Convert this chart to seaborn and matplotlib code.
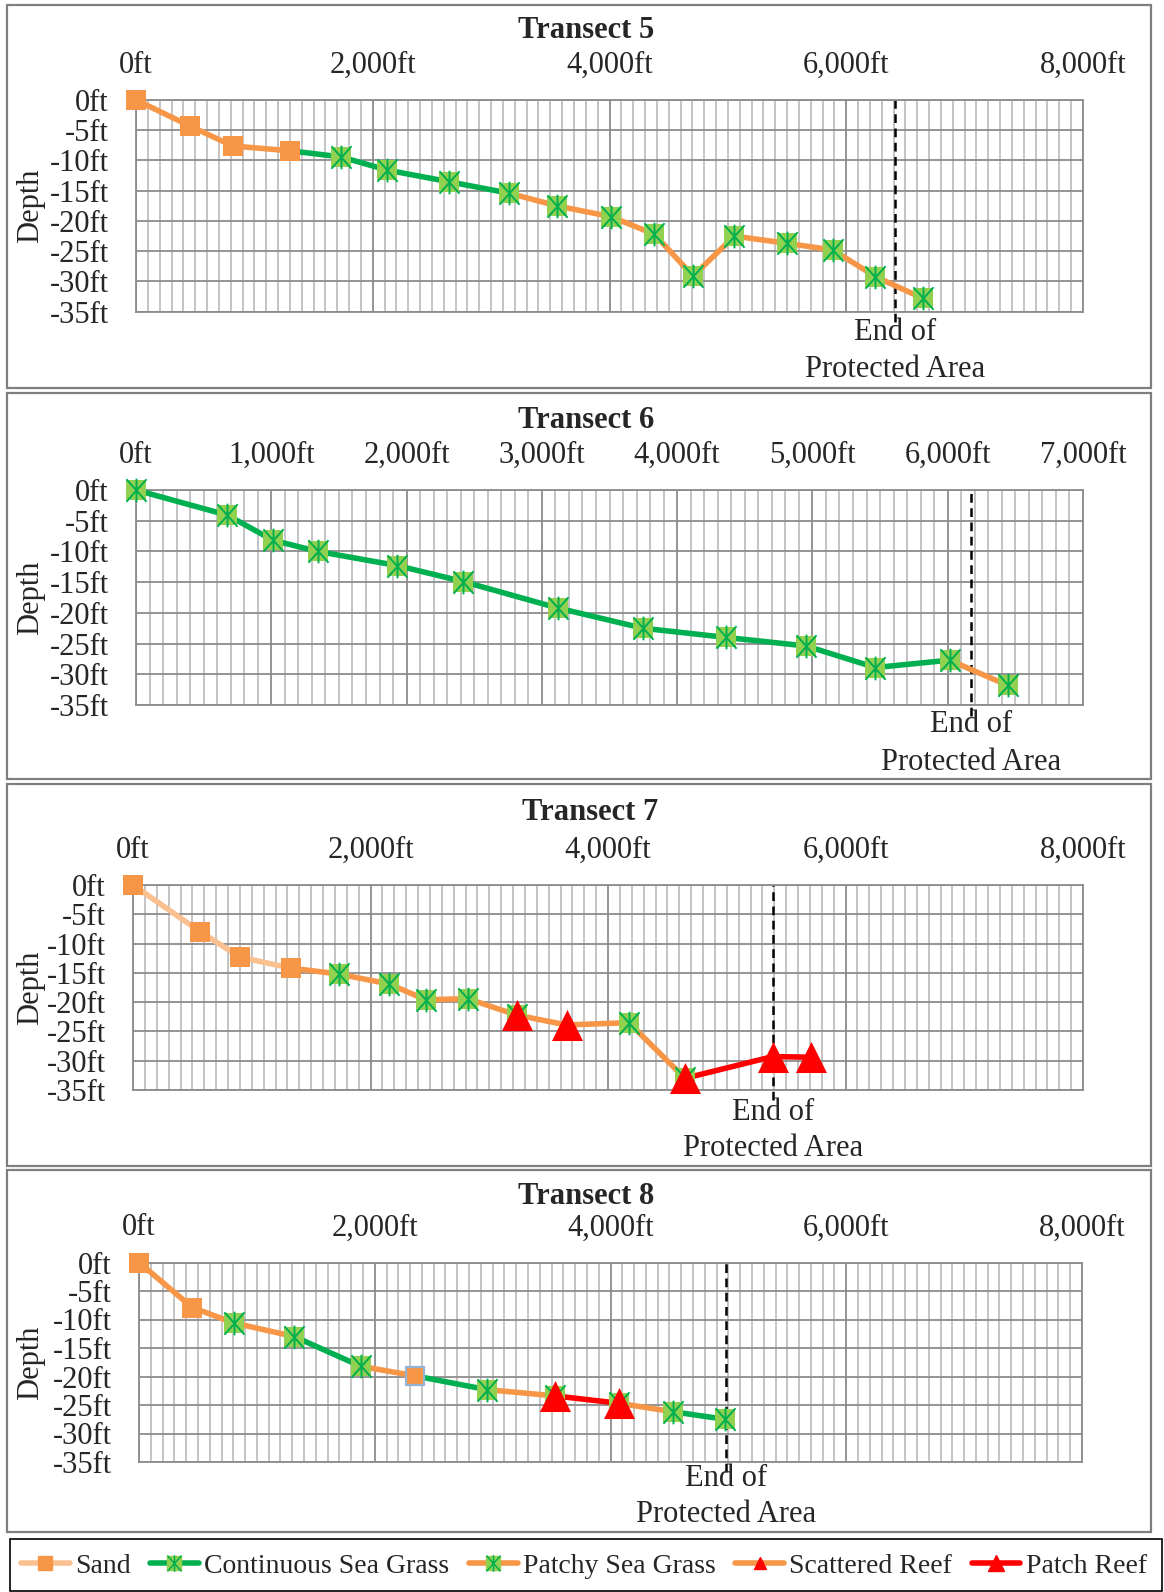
import numpy as np
import pandas as pd
import matplotlib
matplotlib.use('Agg')
import matplotlib.pyplot as plt
import seaborn as sns
from matplotlib.patches import Rectangle
from matplotlib.lines import Line2D
from matplotlib.path import Path

sns.set_style('white')
plt.rcParams['font.family'] = ['Liberation Serif', 'DejaVu Serif']

# ---- data (distance in ft, depth in ft) ----
t5_dist = [0, 456, 817, 1302, 1730, 2124, 2640, 3150, 3556, 4015, 4379, 4706, 5055, 5500, 5886, 6247, 6647]
t5_depth = [0, -4.3, -7.6, -8.4, -9.4, -11.6, -13.5, -15.4, -17.5, -19.3, -22.2, -29.1, -22.5, -23.7, -24.8, -29.2, -32.8]
t5_lines = ['orange'] * 3 + ['green'] * 4 + ['orange'] * 9
t5_marks = ['sand'] * 4 + ['grass'] * 13
t5_end = 6416

t6_dist = [0, 676, 1014, 1344, 1930, 2418, 3116, 3747, 4362, 4955, 5465, 6014, 6442]
t6_depth = [0, -4.1, -8.2, -10.0, -12.3, -14.9, -19.2, -22.5, -24.0, -25.4, -28.9, -27.7, -31.8]
t6_lines = ['green'] * 11 + ['orange']
t6_marks = ['grass'] * 13
t6_end = 6171

t7_dist = [0, 568, 899, 1329, 1733, 2157, 2466, 2817, 3230, 3651, 4176, 4648, 5386, 5709]
t7_depth = [0, -8.0, -12.3, -14.2, -15.2, -16.9, -19.6, -19.4, -22.2, -23.9, -23.5, -33.0, -29.3, -29.4]
t7_lines = ['peach'] * 3 + ['orange'] * 8 + ['red'] * 2
t7_marks = ['sand'] * 4 + ['grass'] * 4 + ['grass+reef', 'reef', 'grass', 'grass+reef', 'reef', 'reef']
t7_end = 5392

t8_dist = [0, 453, 805, 1318, 1880, 2344, 2949, 3529, 4074, 4534, 4970]
t8_depth = [0, -7.9, -10.6, -13.0, -18.2, -19.9, -22.3, -23.4, -24.7, -26.2, -27.5]
t8_lines = ['orange', 'orange', 'orange', 'green', 'orange', 'green', 'orange', 'red', 'orange', 'green']
t8_marks = ['sand', 'sand', 'grass', 'grass', 'grass', 'sand_edge', 'grass', 'grass+reef', 'grass+reef', 'grass', 'grass']
t8_end = 4980

titles = ['Transect 5', 'Transect 6', 'Transect 7', 'Transect 8']
x_max = [8000, 7000, 8000, 8000]
x_step = [2000, 1000, 2000, 2000]
legend_labels = ['Sand', 'Continuous Sea Grass', 'Patchy Sea Grass', 'Scattered Reef', 'Patch Reef']

transects = [
    (t5_dist, t5_depth, t5_lines, t5_marks, t5_end),
    (t6_dist, t6_depth, t6_lines, t6_marks, t6_end),
    (t7_dist, t7_depth, t7_lines, t7_marks, t7_end),
    (t8_dist, t8_depth, t8_lines, t8_marks, t8_end),
]

# ---- colours / layout ----
line_pal = {'orange': '#F79646', 'peach': '#FAC090', 'green': '#00B050', 'red': '#FF0000'}
ORANGE = '#F79646'
LGREEN = '#92D050'
DGREEN = '#00B050'
RED = '#FF0000'

W, H = 1164, 1592
# axes boxes in pixels: left, right, top, bottom
boxes = [(136, 1083, 100, 311.7), (136, 1083, 490, 705), (133, 1083, 885, 1090), (139, 1082, 1262.5, 1462)]
frames = [(5, 388), (393, 779), (784, 1166), (1170, 1532)]
title_pos = [(586, 31), (586, 420), (590, 812), (586, 1196)]
end_off = [(21, 58), (20, 57), (22, 59), (16, 52)]

# asterisk like Excel's marker: vertical bar + X
ast = Path([(0, -1), (0, 1), (-0.85, -0.95), (0.85, 0.95), (-0.85, 0.95), (0.85, -0.95)],
           [Path.MOVETO, Path.LINETO, Path.MOVETO, Path.LINETO, Path.MOVETO, Path.LINETO])

fig = plt.figure(figsize=(W / 100, H / 100), dpi=100)

for i, (dist, depth, lines, marks, end) in enumerate(transects):
    l, r, t, b = boxes[i]
    ax = fig.add_axes([l / W, 1 - b / H, (r - l) / W, (b - t) / H])

    # segments as a long table
    rows = []
    for k, c in enumerate(lines):
        rows.append((dist[k], depth[k], k, c))
        rows.append((dist[k + 1], depth[k + 1], k, c))
    seg = pd.DataFrame(rows, columns=['dist', 'depth', 'seg', 'kind'])
    sns.lineplot(data=seg, x='dist', y='depth', hue='kind', units='seg', estimator=None, sort=False,
                 palette=line_pal, linewidth=4.0, legend=False, ax=ax, zorder=3,
                 solid_capstyle='butt', solid_joinstyle='round')

    pts = pd.DataFrame({'dist': dist, 'depth': depth, 'mark': marks})
    sand = pts[pts.mark == 'sand']
    sns.scatterplot(data=sand, x='dist', y='depth', marker='s', s=190, color=ORANGE, edgecolor=ORANGE,
                    linewidth=0, ax=ax, zorder=4, clip_on=False)
    sand_e = pts[pts.mark == 'sand_edge']
    sns.scatterplot(data=sand_e, x='dist', y='depth', marker='s', s=170, color=ORANGE, edgecolor='#95B3D7',
                    linewidth=1.6, ax=ax, zorder=4, clip_on=False)
    grass = pts[pts.mark.str.contains('grass')]
    sns.scatterplot(data=grass, x='dist', y='depth', marker='s', s=190, color=LGREEN, edgecolor=LGREEN,
                    linewidth=0, ax=ax, zorder=4, clip_on=False)
    sns.scatterplot(data=grass, x='dist', y='depth', marker=ast, s=290, color=DGREEN, edgecolor=DGREEN,
                    linewidth=1.4, ax=ax, zorder=5, clip_on=False)
    reef = pts[pts.mark.str.contains('reef')]
    sns.scatterplot(data=reef, x='dist', y='depth', marker='^', s=500, color=RED, edgecolor=RED,
                    linewidth=0, ax=ax, zorder=6, clip_on=False)

    # end of protected area
    ax.axvline(end, ymin=-0.05, ymax=1, color='black', lw=1.8, ls=(0, (3.5, 2.2)), zorder=2.5, clip_on=False)
    o1, o2 = end_off[i]
    ax.annotate('End of', xy=(end, 0), xycoords=('data', 'axes fraction'), xytext=(0, -o1),
                textcoords='offset pixels', ha='center', va='center', fontsize=22)
    ax.annotate('Protected Area', xy=(end, 0), xycoords=('data', 'axes fraction'), xytext=(0, -o2),
                textcoords='offset pixels', ha='center', va='center', fontsize=22)

    # axes and grid
    ax.set_xlim(0, x_max[i])
    ax.set_ylim(-35, 0)
    xt = np.arange(0, x_max[i] + 1, x_step[i])
    ax.set_xticks(xt)
    ax.set_xticklabels([f'{v:,}ft' for v in xt])
    ax.set_xticks(np.arange(0, x_max[i] + 1, 100), minor=True)
    yt = np.arange(-35, 1, 5)
    ax.set_yticks(yt)
    ax.set_yticklabels([f'{v}ft' for v in yt])
    ax.xaxis.tick_top()
    ax.tick_params(axis='x', which='both', length=0, pad=14.5, labelsize=22, top=True, bottom=False)
    ax.tick_params(axis='y', which='both', length=0, pad=19.5, labelsize=22)
    ax.grid(which='minor', axis='x', color='#BFBFBF', lw=1.3)
    ax.grid(which='major', axis='both', color='#8C8C8C', lw=1.3)
    ax.set_axisbelow(True)
    for sp in ax.spines.values():
        sp.set_color('#8C8C8C')
        sp.set_linewidth(1.3)
    ax.set_xlabel('')
    ax.set_ylabel('')

    # panel text
    tx, ty = title_pos[i]
    fig.text(tx / W, 1 - ty / H, titles[i], ha='center', va='center', fontsize=22, fontweight='bold')
    fig.text(31 / W, 1 - ((t + b) / 2) / H, 'Depth', rotation=90, ha='center', va='center', fontsize=22)

    f_top, f_bot = frames[i]
    fig.add_artist(Rectangle((7 / W, 1 - f_bot / H), (1151 - 7) / W, (f_bot - f_top) / H,
                             transform=fig.transFigure, fill=False, ec='#7F7F7F', lw=1.6))

# legend
h_sand = Line2D([], [], color='#FAC090', lw=4, marker='s', ms=10, mfc=ORANGE, mec=ORANGE)
h_cont = (Line2D([], [], color=DGREEN, lw=4, marker='s', ms=10, mfc=LGREEN, mec=LGREEN),
          Line2D([], [], ls='none', marker=ast, ms=12, mec=DGREEN, mfc=DGREEN, mew=1.1))
h_patchy = (Line2D([], [], color=ORANGE, lw=4, marker='s', ms=10, mfc=LGREEN, mec=LGREEN),
            Line2D([], [], ls='none', marker=ast, ms=12, mec=DGREEN, mfc=DGREEN, mew=1.1))
h_scat = Line2D([], [], color=ORANGE, lw=4, marker='^', ms=9, mfc=RED, mec=RED)
h_patch = Line2D([], [], color=RED, lw=4, marker='^', ms=11, mfc=RED, mec=RED)
fig.legend([h_sand, h_cont, h_patchy, h_scat, h_patch], legend_labels, loc='center',
           bbox_to_anchor=(584 / W, 1 - 1566 / H), ncol=5, frameon=False, fontsize=20,
           handlelength=1.75, handletextpad=0.2, columnspacing=0.7, borderpad=0)
fig.add_artist(Rectangle((10 / W, 1 / H), (1162 - 10) / W, (1591 - 1539) / H,
                         transform=fig.transFigure, fill=False, ec='black', lw=1.2))

fig.savefig('out.png', dpi=100)
